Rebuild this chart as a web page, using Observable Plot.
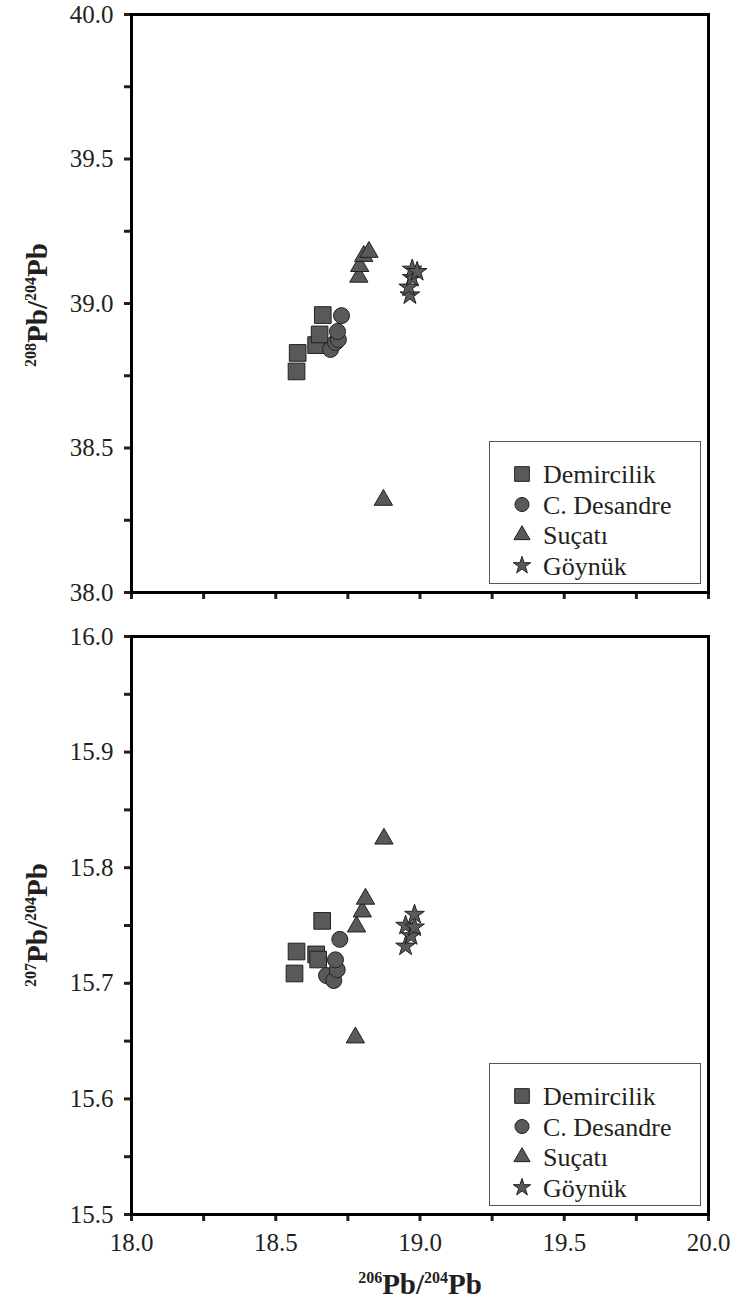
<!DOCTYPE html>
<html>
<head>
<meta charset="utf-8">
<script src="https://cdn.jsdelivr.net/npm/d3@7"></script>
<script src="https://cdn.jsdelivr.net/npm/@observablehq/plot@0.6"></script>
<style>
  html, body { margin: 0; padding: 0; background: #fff; }
  #wrap { position: relative; width: 734px; height: 1302px; }
  #wrap svg { display: block; }
  #wrap svg text { font-family: "Liberation Serif", "Times New Roman", serif; }
  .legend { position: absolute; left: 489px; width: 212px; height: 143px; }
</style>
</head>
<body>
<div id="wrap"></div>
<script>
// ---- Data ----
const sites = ["Demircilik", "C. Desandre", "Suçatı", "Göynük"];
const siteSymbols = ["square", "circle", "triangle", "star"];
const siteR = [9.4, 8, 6.8, 6.2];

// Upper panel: 206Pb/204Pb vs 208Pb/204Pb
const siteTop = ["Demircilik","Demircilik","Demircilik","Demircilik","Demircilik",
  "C. Desandre","C. Desandre","C. Desandre","C. Desandre","C. Desandre",
  "Suçatı","Suçatı","Suçatı","Suçatı","Suçatı",
  "Göynük","Göynük","Göynük","Göynük","Göynük"];
const pb206Top = [18.572, 18.576, 18.640, 18.652, 18.663,
  18.690, 18.707, 18.717, 18.714, 18.728,
  18.788, 18.791, 18.805, 18.823, 18.873,
  18.965, 18.961, 18.973, 18.973, 18.990];
const pb208 = [38.765, 38.829, 38.856, 38.893, 38.960,
  38.841, 38.865, 38.875, 38.903, 38.958,
  39.092, 39.129, 39.164, 39.178, 38.32,
  39.029, 39.056, 39.089, 39.118, 39.110];

// Lower panel: 206Pb/204Pb vs 207Pb/204Pb
const siteBottom = siteTop;
const pb206Bottom = [18.565, 18.572, 18.640, 18.647, 18.661,
  18.676, 18.701, 18.713, 18.707, 18.722,
  18.776, 18.780, 18.800, 18.811, 18.875,
  18.950, 18.950, 18.969, 18.981, 18.981];
const pb207 = [15.7085, 15.7275, 15.725, 15.7206, 15.754,
  15.7067, 15.7024, 15.7117, 15.7203, 15.738,
  15.653, 15.749, 15.762, 15.773, 15.825,
  15.732, 15.750, 15.741, 15.7485, 15.7595];

const xTicks = d3.range(0, 9).map(i => 18 + i * 0.25);
const yTicksTop = d3.range(0, 9).map(i => 38 + i * 0.25);
const yTicksBottom = d3.range(0, 11).map(i => 15.5 + i * 0.05);

// ---- Styling ----
const FONT = '"Liberation Serif", "Times New Roman", serif';
const FILL = "#59595b";
const STROKE = "#231f20";
const TEXT = "#231f20";

const isMultiple = (d, step) => Math.abs(d / step - Math.round(d / step)) < 1e-6;

function panel({xs, ys, cats, yDomain, yTicks, yMajor, height, marginTop, marginBottom, xLabels}) {
  const data = xs.map((x, i) => ({x, y: ys[i], site: cats[i]}));
  return Plot.plot({
    width: 734,
    height,
    marginLeft: 131,
    marginRight: 26,
    marginTop,
    marginBottom,
    style: {fontFamily: FONT, fontSize: "25px", color: TEXT, background: "white", overflow: "visible"},
    x: {domain: [18, 20]},
    y: {domain: yDomain},
    marks: [
      Plot.axisY({ticks: yTicks, tickSize: 7, tickPadding: 11, strokeWidth: 3, label: null,
        fontFamily: FONT, fontVariant: "normal",
        tickFormat: d => isMultiple(d, yMajor) ? d.toFixed(1) : "", fill: TEXT}),
      Plot.axisX({ticks: xTicks, tickSize: 7, tickPadding: 12, strokeWidth: 3, label: null,
        fontFamily: FONT, fontVariant: "normal",
        tickFormat: d => xLabels && isMultiple(d, 0.5) ? d.toFixed(1) : "", fill: TEXT}),
      ...sites.map((s, k) => Plot.dot(data.filter(d => d.site === s), {
        x: "x", y: "y", symbol: siteSymbols[k], r: siteR[k],
        fill: FILL, stroke: STROKE, strokeWidth: 1, fillOpacity: 1
      })),
      Plot.frame({stroke: "#000", strokeWidth: 3})
    ]
  });
}

function addLabel(svg, x, y, rotate, sup1, sup2) {
  const t = d3.select(svg).append("text")
    .attr("transform", `translate(${x},${y}) rotate(${rotate})`)
    .attr("text-anchor", "middle")
    .attr("font-family", FONT)
    .attr("font-weight", "bold")
    .attr("font-size", 29)
    .attr("fill", TEXT);
  t.append("tspan").attr("font-size", 16).attr("dy", -11).text(sup1);
  t.append("tspan").attr("dy", 11).text("Pb/");
  t.append("tspan").attr("font-size", 16).attr("dy", -11).text(sup2);
  t.append("tspan").attr("dy", 11).text("Pb");
}

function makeLegend(topPx) {
  const div = document.createElement("div");
  div.className = "legend";
  div.style.top = topPx + "px";
  const svg = d3.create("svg").attr("width", 212).attr("height", 143);
  svg.append("rect").attr("x", 0.5).attr("y", 0.5).attr("width", 211).attr("height", 142)
    .attr("fill", "white").attr("stroke", "#555").attr("stroke-width", 1);
  const sym = {square: d3.symbolSquare, circle: d3.symbolCircle, triangle: d3.symbolTriangle, star: d3.symbolStar};
  sites.forEach((s, i) => {
    const cy = 33 + i * 30.5;
    const r = siteR[i] * 0.88;
    svg.append("path")
      .attr("transform", `translate(33,${cy})`)
      .attr("d", d3.symbol(sym[siteSymbols[i]], r * r * Math.PI)())
      .attr("fill", FILL).attr("stroke", STROKE).attr("stroke-width", 1);
    svg.append("text").attr("x", 54).attr("y", cy + 9)
      .attr("font-family", FONT).attr("font-size", 26).attr("fill", TEXT).text(s);
  });
  div.appendChild(svg.node());
  return div;
}

const wrap = document.getElementById("wrap");

const topPanel = panel({xs: pb206Top, ys: pb208, cats: siteTop, yDomain: [38, 40], yTicks: yTicksTop,
  yMajor: 0.5, height: 620, marginTop: 14, marginBottom: 28, xLabels: false});
addLabel(topPanel, 47, 305, -90, "208", "204");
wrap.appendChild(topPanel);

const bottomPanel = panel({xs: pb206Bottom, ys: pb207, cats: siteBottom, yDomain: [15.5, 16.0], yTicks: yTicksBottom,
  yMajor: 0.1, height: 682, marginTop: 16, marginBottom: 88, xLabels: true});
addLabel(bottomPanel, 47, 305, -90, "207", "204");
addLabel(bottomPanel, 420, 674, 0, "206", "204");
wrap.appendChild(bottomPanel);

wrap.appendChild(makeLegend(441));
wrap.appendChild(makeLegend(1063));
</script>
</body>
</html>
